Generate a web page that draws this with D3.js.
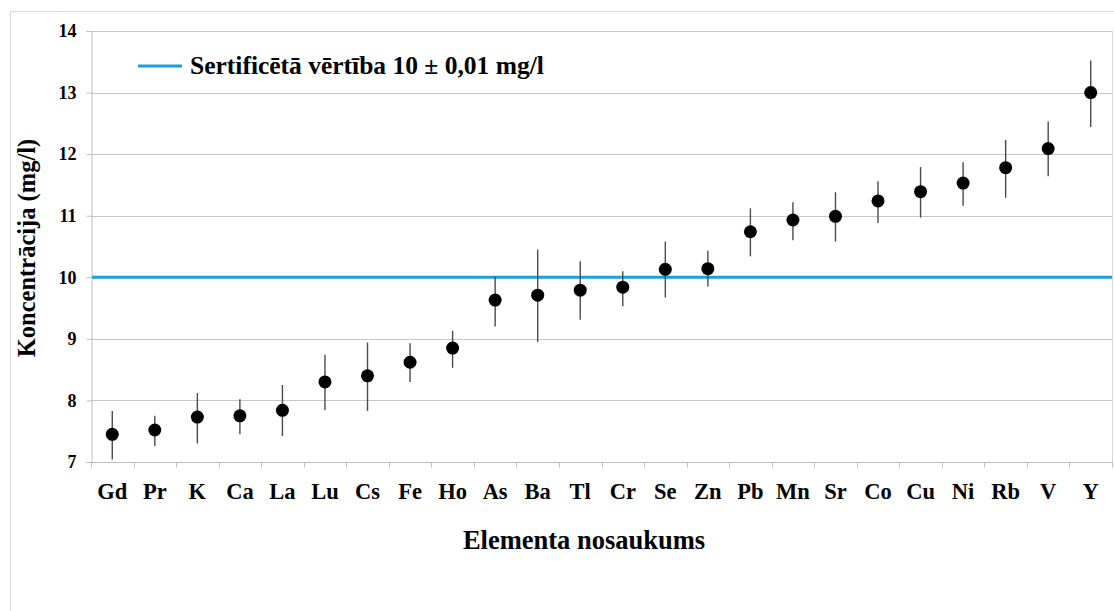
<!DOCTYPE html>
<html>
<head>
<meta charset="utf-8">
<script src="https://cdn.jsdelivr.net/npm/d3@7"></script>
<style>
  html, body { margin: 0; padding: 0; background: #fff; }
  svg { display: block; }
  text { font-family: "Liberation Serif", "Times New Roman", serif; font-weight: bold; fill: #000; }
</style>
</head>
<body>
<svg id="chart" width="1114" height="611"></svg>
<script>
// Measured concentrations per element, sorted ascending
const elements = ["Gd","Pr","K","Ca","La","Lu","Cs","Fe","Ho","As","Ba","Tl","Cr","Se","Zn","Pb","Mn","Sr","Co","Cu","Ni","Rb","V","Y"];
const concentration = [7.45,7.52,7.73,7.75,7.84,8.30,8.40,8.62,8.85,9.63,9.71,9.79,9.84,10.13,10.14,10.74,10.93,10.99,11.24,11.39,11.53,11.78,12.09,13.00];
// Lower and upper ends of the uncertainty bars
const lowerBound = [7.04,7.26,7.30,7.45,7.42,7.84,7.83,8.30,8.53,9.20,8.95,9.31,9.53,9.67,9.85,10.34,10.60,10.58,10.88,10.97,11.16,11.29,11.64,12.44];
const upperBound = [7.83,7.75,8.12,8.02,8.25,8.74,8.94,8.93,9.13,10.01,10.45,10.26,10.10,10.58,10.43,11.12,11.22,11.38,11.56,11.79,11.87,12.23,12.53,13.52];
const yTicks = [7,8,9,10,11,12,13,14];
const certifiedValue = 10;
const legendLabel = "Sertificētā vērtība 10 ± 0,01 mg/l";
const xTitle = "Elementa nosaukums";
const yTitle = "Koncentrācija (mg/l)";

const svg = d3.select("#chart");
const plot = { left: 91, right: 1112, top: 31, bottom: 462 };

// Outer chart frame
svg.append("rect")
  .attr("x", 10.5).attr("y", 11.5)
  .attr("width", 1120).attr("height", 620)
  .attr("fill", "none").attr("stroke", "#d9d9d9").attr("stroke-width", 1);

const x = d3.scaleBand().domain(elements).range([plot.left, plot.right]).paddingInner(0).paddingOuter(0);
const y = d3.scaleLinear().domain([7, 14]).range([plot.bottom, plot.top]);

// Horizontal gridlines
svg.append("g").selectAll("line").data(yTicks.slice(1)).join("line")
  .attr("x1", plot.left).attr("x2", plot.right)
  .attr("y1", d => Math.round(y(d)) + 0.5).attr("y2", d => Math.round(y(d)) + 0.5)
  .attr("stroke", "#c8c8c8").attr("stroke-width", 1);

// Right edge of the plot area
svg.append("line")
  .attr("x1", plot.right + 0.5).attr("x2", plot.right + 0.5)
  .attr("y1", plot.top).attr("y2", plot.bottom)
  .attr("stroke", "#d9d9d9");

// Y axis
const yAxis = d3.axisLeft(y).tickValues(yTicks).tickSize(5).tickPadding(10).tickFormat(d3.format("d"));
const gy = svg.append("g").attr("transform", `translate(${plot.left + 0.5},0)`).call(yAxis);
gy.select(".domain").attr("stroke", "#bfbfbf");
gy.selectAll(".tick line").attr("stroke", "#bfbfbf");
gy.selectAll(".tick text").attr("font-size", 18).attr("font-family", "Liberation Serif").attr("font-weight", "bold").attr("fill", "#000");

// X axis with ticks at category boundaries
const gx = svg.append("g").attr("transform", `translate(0,${plot.bottom + 0.5})`);
gx.append("line").attr("x1", plot.left).attr("x2", plot.right + 1)
  .attr("stroke", "#bfbfbf");
const bounds = elements.map(e => x(e)).concat([plot.right]);
gx.selectAll("line.tk").data(bounds).join("line").attr("class", "tk")
  .attr("x1", d => Math.round(d) + 0.5).attr("x2", d => Math.round(d) + 0.5)
  .attr("y1", 0).attr("y2", 5).attr("stroke", "#bfbfbf");
gx.selectAll("text").data(elements).join("text")
  .attr("x", d => x(d) + x.bandwidth() / 2)
  .attr("y", 36)
  .attr("text-anchor", "middle")
  .attr("font-size", 22.5)
  .text(d => d);

// Certified reference value line
svg.append("line")
  .attr("x1", plot.left + 1).attr("x2", plot.right)
  .attr("y1", y(certifiedValue)).attr("y2", y(certifiedValue))
  .attr("stroke", "#1a9fdf").attr("stroke-width", 3);

// Uncertainty bars and measured points
const pts = elements.map((e, i) => ({ e, v: concentration[i], lo: lowerBound[i], hi: upperBound[i] }));
svg.append("g").selectAll("line").data(pts).join("line")
  .attr("x1", d => x(d.e) + x.bandwidth() / 2).attr("x2", d => x(d.e) + x.bandwidth() / 2)
  .attr("y1", d => y(d.lo)).attr("y2", d => y(d.hi))
  .attr("stroke", "#4a4a4a").attr("stroke-width", 1.4);
svg.append("g").selectAll("circle").data(pts).join("circle")
  .attr("cx", d => x(d.e) + x.bandwidth() / 2)
  .attr("cy", d => y(d.v))
  .attr("r", 6.5)
  .attr("fill", "#000");

// Legend
const lg = svg.append("g").attr("transform", "translate(138,66)");
lg.append("line").attr("x1", 0).attr("x2", 44).attr("y1", 0).attr("y2", 0)
  .attr("stroke", "#1a9fdf").attr("stroke-width", 3);
lg.append("text").attr("x", 52).attr("y", 8).attr("font-size", 25.5).text(legendLabel);

// Axis titles
svg.append("text")
  .attr("x", 584).attr("y", 549)
  .attr("text-anchor", "middle").attr("font-size", 26.5)
  .text(xTitle);
svg.append("text")
  .attr("transform", "translate(35,248) rotate(-90)")
  .attr("text-anchor", "middle").attr("font-size", 24.5)
  .text(yTitle);
</script>
</body>
</html>
